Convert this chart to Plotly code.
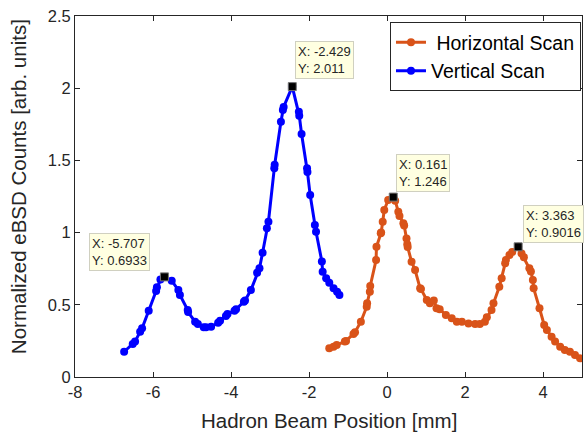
import plotly.graph_objects as go

# Vertical scan (blue)
blue_x = [-6.74, -6.52, -6.46, -6.33, -6.28, -6.11, -5.92, -5.90, -5.81, -5.707,
          -5.52, -5.35, -5.31, -5.11, -5.10, -4.92, -4.85, -4.70, -4.64, -4.51,
          -4.33, -4.28, -4.13, -4.09, -3.91, -3.87, -3.67, -3.64, -3.49, -3.33,
          -3.27, -3.19, -3.08, -3.04, -2.89, -2.88, -2.72, -2.67, -2.65, -2.429,
          -2.26, -2.25, -2.19, -2.05, -2.04, -1.97, -1.85, -1.82, -1.67, -1.65,
          -1.56, -1.48, -1.37, -1.28, -1.22]
blue_y = [0.175, 0.229, 0.245, 0.314, 0.337, 0.459, 0.596, 0.621, 0.676, 0.6933,
          0.667, 0.602, 0.568, 0.464, 0.45, 0.383, 0.367, 0.344, 0.344, 0.348,
          0.376, 0.39, 0.422, 0.436, 0.459, 0.47, 0.521, 0.53, 0.602, 0.722,
          0.753, 0.861, 1.03, 1.075, 1.445, 1.47, 1.768, 1.849, 1.87, 2.011,
          1.837, 1.81, 1.683, 1.445, 1.42, 1.26, 1.053, 1.006, 0.80, 0.729,
          0.683, 0.653, 0.614, 0.591, 0.568]

# Horizontal scan (orange)
orange_x = [-1.48, -1.37, -1.29, -1.08, -1.05, -0.86, -0.82, -0.67, -0.52, -0.51,
            -0.44, -0.43, -0.28, -0.27, -0.16, -0.15, -0.11, -0.07, 0.03, 0.161,
            0.21, 0.29, 0.32, 0.42, 0.44, 0.50, 0.52, 0.53, 0.63, 0.72,
            0.85, 0.87, 1.02, 1.10, 1.20, 1.27, 1.35, 1.51, 1.66, 1.79,
            1.92, 2.09, 2.26, 2.38, 2.51, 2.56, 2.68, 2.73, 2.88, 2.94,
            3.03, 3.05, 3.14, 3.21, 3.363, 3.45, 3.51, 3.65, 3.69, 3.74,
            3.76, 3.91, 4.03, 4.10, 4.22, 4.31, 4.44, 4.56, 4.69, 4.82, 4.95]
orange_y = [0.199, 0.21, 0.222, 0.245, 0.25, 0.298, 0.31, 0.383, 0.487, 0.51,
            0.591, 0.63, 0.81, 0.902, 0.995, 1.0, 1.076, 1.157, 1.226, 1.246,
            1.221, 1.145, 1.115, 1.064, 1.05, 0.96, 0.92, 0.90, 0.798, 0.741,
            0.614, 0.61, 0.533, 0.51, 0.53, 0.476, 0.47, 0.429, 0.406, 0.383,
            0.383, 0.371, 0.367, 0.367, 0.383, 0.413, 0.464, 0.51, 0.625, 0.683,
            0.787, 0.81, 0.845, 0.866, 0.9016, 0.856, 0.83, 0.753, 0.73, 0.672,
            0.614, 0.476, 0.36, 0.325, 0.279, 0.245, 0.21, 0.187, 0.175, 0.152, 0.129]

# Data tips
tip_x = [-5.707, -2.429, 0.161, 3.363]
tip_y = [0.6933, 2.011, 1.246, 0.9016]
tip_labels = ["X: -5.707<br>Y: 0.6933", "X: -2.429<br>Y: 2.011",
              "X: 0.161<br>Y: 1.246", "X: 3.363<br>Y: 0.9016"]

x_ticks = [-8, -6, -4, -2, 0, 2, 4]
x_tick_text = ["-8", "-6", "-4", "-2", "0", "2", "4"]
y_ticks = [0, 0.5, 1, 1.5, 2, 2.5]
y_tick_text = ["0", "0.5", "1", "1.5", "2", "2.5"]

x_title = "Hadron Beam Position [mm]"
y_title = "Normalized eBSD Counts [arb. units]"

FONT = "Liberation Sans, Arial, sans-serif"
ORANGE = "#D95319"
BLUE = "#0000FF"
TXT = "#262626"

fig = go.Figure()
fig.add_trace(go.Scatter(x=orange_x, y=orange_y, mode="lines+markers",
                         name="\u00a0Horizontal Scan",
                         line=dict(color=ORANGE, width=3),
                         marker=dict(color=ORANGE, size=8, symbol="circle")))
fig.add_trace(go.Scatter(x=blue_x, y=blue_y, mode="lines+markers",
                         name="Vertical Scan",
                         line=dict(color=BLUE, width=3),
                         marker=dict(color=BLUE, size=8, symbol="circle")))
fig.add_trace(go.Scatter(x=tip_x, y=tip_y, mode="markers", showlegend=False,
                         marker=dict(color="black", size=8, symbol="square",
                                     line=dict(color="#777777", width=1))))

shifts = [(-14, 6, "right"), (3, 8, "left"), (3, 5, "left"), (5, 4, "left")]
for xv, yv, lab, (xs, ys, xa) in zip(tip_x, tip_y, tip_labels, shifts):
    fig.add_annotation(x=xv, y=yv, text=lab, showarrow=False, align="left",
                       xanchor=xa, yanchor="bottom", xshift=xs, yshift=ys,
                       bgcolor="#FFFFE1", bordercolor="#D0D0C0", borderwidth=1,
                       borderpad=2, font=dict(family=FONT, size=13, color=TXT))

# Axis titles
fig.add_annotation(xref="paper", yref="paper", x=0.5, y=-0.12, text=x_title,
                   showarrow=False, xanchor="center", yanchor="middle",
                   font=dict(family=FONT, size=20.5, color=TXT))
fig.add_annotation(xref="paper", yref="paper", x=-0.1124, y=0.526, text=y_title,
                   showarrow=False, xanchor="center", yanchor="middle", textangle=-90,
                   font=dict(family=FONT, size=20.5, color=TXT))

axis_common = dict(showline=True, linecolor=TXT, linewidth=1, mirror="allticks",
                   ticks="inside", ticklen=5, tickcolor=TXT, showgrid=False,
                   zeroline=False, automargin=False,
                   tickfont=dict(family=FONT, size=16.5, color=TXT))

fig.update_layout(
    width=585, height=437,
    margin=dict(l=75, r=3, t=16, b=60, autoexpand=False),
    paper_bgcolor="white", plot_bgcolor="white",
    font=dict(family=FONT, color=TXT),
    xaxis=dict(range=[-8, 5], tickvals=x_ticks, ticktext=x_tick_text, **axis_common),
    yaxis=dict(range=[0, 2.5], tickvals=y_ticks, ticktext=y_tick_text, **axis_common),
    legend=dict(x=0.998, y=0.983, xanchor="right", yanchor="top",
                bgcolor="white", bordercolor=TXT, borderwidth=1,
                font=dict(family=FONT, size=19.5, color="black"),
                tracegroupgap=0, itemwidth=30),
    showlegend=True,
)

fig.write_html("out.html", config={"displayModeBar": False},
               post_script="document.body.style.margin='0';document.body.style.overflow='hidden';")
